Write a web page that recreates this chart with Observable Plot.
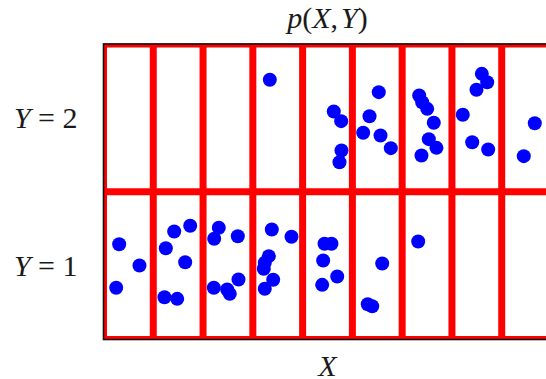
<!DOCTYPE html>
<html>
<head>
<meta charset="utf-8">
<script src="https://cdn.jsdelivr.net/npm/d3@7"></script>
<script src="https://cdn.jsdelivr.net/npm/@observablehq/plot@0.6"></script>
<style>
  html, body { margin: 0; padding: 0; background: #fff; overflow: hidden; }
</style>
</head>
<body>
<div id="chart"></div>
<script>
// Cell boundaries
const xEdges = [0, 1, 2, 3, 4, 5, 6, 7, 8, 9];
const yEdges = [0, 1, 2];

// Samples with Y = 2 (upper row)
const upperX = [3.341, 4.626, 4.775, 4.781, 4.741, 5.530, 5.344, 5.217, 5.565, 5.772,
                6.342, 6.402, 6.503, 6.635, 6.535, 6.689, 6.388, 7.218, 7.600, 7.708,
                7.493, 7.407, 7.728, 8.664, 8.443];
const upperY = [1.758, 1.543, 1.478, 1.279, 1.200, 1.674, 1.511, 1.399, 1.381, 1.295,
                1.651, 1.606, 1.561, 1.467, 1.356, 1.297, 1.245, 1.521, 1.798, 1.741,
                1.690, 1.335, 1.286, 1.464, 1.241];

// Samples with Y = 1 (lower row)
const lowerX = [0.315, 0.723, 0.255, 1.252, 1.420, 1.742, 1.641, 1.225, 1.481, 2.316,
                2.224, 2.698, 2.712, 2.216, 2.485, 2.537, 3.381, 3.777, 3.321, 3.240,
                3.220, 3.409, 3.240, 4.440, 4.580, 4.413, 4.695, 4.393, 5.599, 5.309,
                5.398, 6.322];
const lowerY = [0.645, 0.501, 0.350, 0.618, 0.731, 0.770, 0.523, 0.286, 0.275, 0.756,
                0.682, 0.699, 0.406, 0.350, 0.338, 0.309, 0.745, 0.695, 0.564, 0.519,
                0.479, 0.404, 0.343, 0.648, 0.648, 0.535, 0.426, 0.370, 0.514, 0.239,
                0.225, 0.663];

// Text
const titleText = ["p(X,Y)"];
const xLabel = ["X"];
const rowLabels = ["Y = 1", "Y = 2"];
const rowCenters = [0.5, 1.5];

const points = upperX.map((x, i) => ({x, y: upperY[i]}))
  .concat(lowerX.map((x, i) => ({x, y: lowerY[i]})));

const FS = 30;

const chart = Plot.plot({
  width: 551,
  height: 379,
  marginLeft: 103,
  marginRight: 0,
  marginTop: 43.5,
  marginBottom: 40,
  x: {domain: [0, 9], axis: null},
  y: {domain: [0, 2], axis: null},
  style: {fontFamily: "'Liberation Serif', 'DejaVu Serif', serif", maxWidth: "none", background: "#fff"},
  marks: [
    Plot.ruleX(xEdges, {x: d => d, y1: 0, y2: 2, stroke: "#ff0000", strokeWidth: 7, clip: true}),
    Plot.ruleY(yEdges, {y: d => d, x1: 0, x2: 9, stroke: "#ff0000", strokeWidth: 7, clip: true}),
    Plot.frame({stroke: "#111", strokeWidth: 1.6}),
    Plot.dot(points, {x: "x", y: "y", r: 7, fill: "#0000ff", stroke: "none"}),
    Plot.text(titleText, {text: d => d, frameAnchor: "top", lineAnchor: "middle", dy: -26, fontSize: FS, fill: "#1a1a1a"}),
    Plot.text(xLabel, {text: d => d, frameAnchor: "bottom", lineAnchor: "middle", dy: 27, fontSize: FS, fill: "#1a1a1a"}),
    Plot.text(rowLabels, {text: d => d, y: (d, i) => rowCenters[i], frameAnchor: "left", lineAnchor: "middle", dx: -26, dy: 1, textAnchor: "end", fontSize: FS, fill: "#1a1a1a"})
  ]
});

document.getElementById("chart").appendChild(chart);

// Typeset: letters italic, other symbols upright
d3.select(chart).selectAll("text").each(function() {
  const el = d3.select(this);
  const s = this.textContent;
  el.text("");
  const runs = s.match(/[A-Za-z]+|[^A-Za-z]+/g) || [];
  let prevComma = false;
  runs.forEach(r => {
    const italic = /[A-Za-z]/.test(r);
    const t = el.append("tspan").text(r).style("font-style", italic ? "italic" : "normal");
    if (prevComma) t.attr("dx", 3);
    prevComma = r.endsWith(",");
  });
  el.attr("xml:space", "preserve");
});
</script>
</body>
</html>
